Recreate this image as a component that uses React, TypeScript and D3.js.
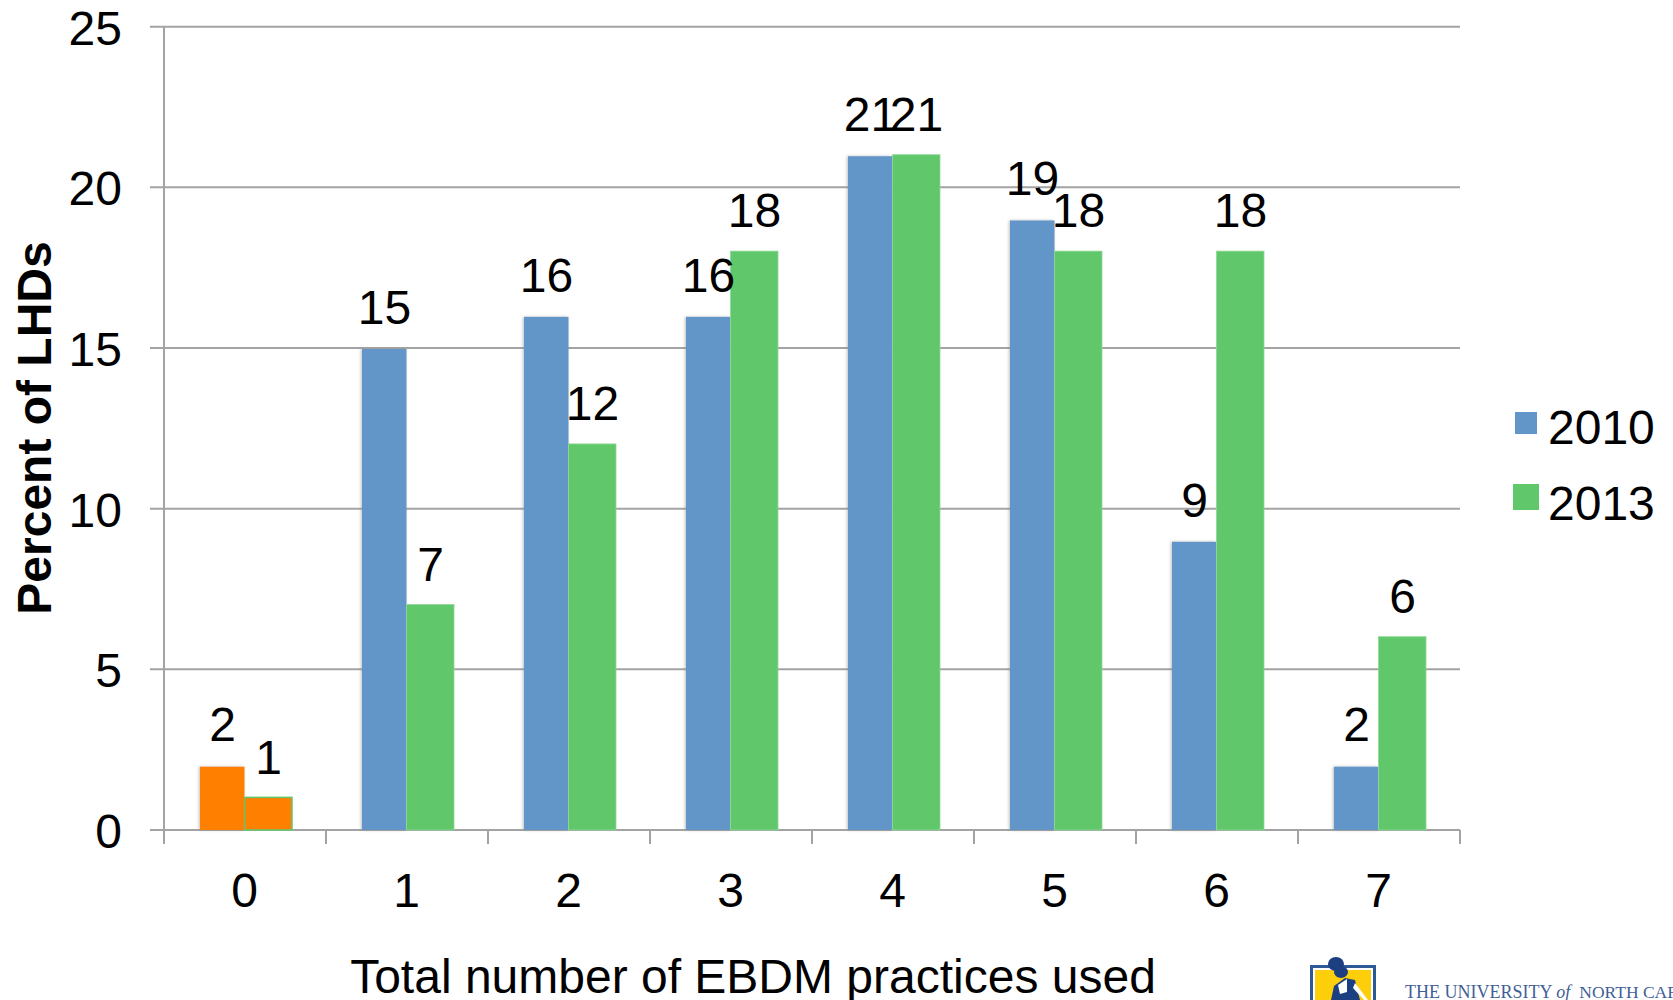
import React from "react";
import * as d3 from "d3";

const categories = ["0", "1", "2", "3", "4", "5", "6", "7"];
const values2010 = [2, 15, 16, 16, 21, 19, 9, 2];
const values2013 = [1, 7, 12, 18, 21, 18, 18, 6];
const yTicks = [0, 5, 10, 15, 20, 25];
const legendItems = ["2010", "2013"];
const xTitle = "Total number of EBDM practices used";
const yTitle = "Percent of LHDs";

const BLUE = "#6296c9";
const GREEN = "#60c86b";
const ORANGE = "#ff7f00";
const AXIS = "#a3a3a3";
const FONT = "'Liberation Sans', Arial, sans-serif";
const SIZE = 48;

const x = d3.scaleBand<string>().domain(categories).range([164, 1460]);
const y = d3.scaleLinear().domain([0, 25]).range([830, 26.7]);

export default function App() {
  const step = x.step();
  const ticksX = d3.range(0, categories.length + 1).map((i) => 164 + i * step);
  return (
    <svg
      width={1673}
      height={1000}
      viewBox="0 0 1673 1000"
      style={{ position: "absolute", left: 0, top: 0, background: "#fff" }}
      fontFamily={FONT}
    >
      <defs>
        <filter id="sh" x="-15%" y="-5%" width="130%" height="110%">
          <feDropShadow dx="-1" dy="0" stdDeviation="1.6" floodColor="#888" floodOpacity="0.55" />
        </filter>
        <clipPath id="logoClip">
          <rect x={1300} y={950} width={373} height={50} />
        </clipPath>
      </defs>

      {yTicks.map((t) => (
        <line key={t} x1={150} x2={1460} y1={y(t)} y2={y(t)} stroke={AXIS} strokeWidth={2} />
      ))}
      <line x1={164} x2={164} y1={y(25)} y2={844} stroke={AXIS} strokeWidth={2} />
      {ticksX.map((tx) => (
        <line key={tx} x1={tx} x2={tx} y1={830} y2={844} stroke={AXIS} strokeWidth={2} />
      ))}

      {categories.map((c, i) => {
        const cx = (x(c) as number) + step / 2;
        const isOrange = c === "0";
        const v0 = values2010[i];
        const v1 = values2013[i];
        return (
          <g key={c}>
            <rect
              x={cx - 45}
              y={y(v0) + 1}
              width={44.5}
              height={y(0) - y(v0) - 1}
              fill={isOrange ? ORANGE : BLUE}
              filter="url(#sh)"
            />
            <rect
              x={cx - 0.5}
              y={y(v1) - 0.5}
              width={47.5}
              height={y(0) - y(v1) + 0.5}
              fill={isOrange ? ORANGE : GREEN}
              stroke={isOrange ? GREEN : "#8fd898"}
              strokeWidth={isOrange ? 1.5 : 0.8}
            />
            <text x={cx - 22.5} y={y(v0) - 24.3} textAnchor="middle" fontSize={SIZE} fill="#000">
              {v0}
            </text>
            <text x={cx + 23.5} y={y(v1) - 24.3} textAnchor="middle" fontSize={SIZE} fill="#000">
              {v1}
            </text>
          </g>
        );
      })}

      {yTicks.map((t) => (
        <text key={t} x={122} y={y(t) + 18} textAnchor="end" fontSize={SIZE} fill="#000">
          {t}
        </text>
      ))}
      {categories.map((c) => (
        <text
          key={c}
          x={(x(c) as number) + step / 2 - 0.5}
          y={907}
          textAnchor="middle"
          fontSize={SIZE}
          fill="#000"
        >
          {c}
        </text>
      ))}

      <text x={753} y={993} textAnchor="middle" fontSize={SIZE} fill="#000">
        {xTitle}
      </text>
      <text
        transform="translate(51,428) rotate(-90)"
        textAnchor="middle"
        fontSize={SIZE}
        fontWeight="bold"
        fill="#000"
      >
        {yTitle}
      </text>

      {legendItems.map((l, i) => (
        <g key={l}>
          <rect
            x={i === 0 ? 1515 : 1513}
            y={i === 0 ? 412 : 484}
            width={i === 0 ? 22 : 26}
            height={i === 0 ? 22 : 26}
            fill={i === 0 ? BLUE : GREEN}
          />
          <text x={1548} y={i === 0 ? 444 : 520} fontSize={SIZE} fill="#000">
            {l}
          </text>
        </g>
      ))}

      <g clipPath="url(#logoClip)">
        <rect x={1310} y={965} width={66} height={60} fill="#2d5a94" />
        <rect x={1313} y={968} width={60} height={50} fill="#fff" />
        <rect x={1315} y={970} width={56} height={50} fill="#fdcf0b" />
        <ellipse cx={1336} cy={964} rx={8} ry={7} fill="#1b3f80" />
        <ellipse cx={1341} cy={972} rx={7} ry={6} fill="#1b3f80" />
        <path d="M1331 1000 L1334 986 L1345 978 L1355 980 L1360 1000 Z" fill="#1b3f80" />
        <path d="M1338 985 L1347 979 L1347 992 L1340 994 Z" fill="#fff" />
        <path d="M1355 983 L1368 1000 L1364 1000 L1353 988 Z" fill="#fff" />
        <text x={1405} y={998} fontFamily="'Liberation Serif', serif" fontSize={18} fill="#3f6096">
          THE UNIVERSITY <tspan fontStyle="italic">of</tspan>
          <tspan dx={9} fontSize={17.5}>NORTH CAROLINA</tspan>
        </text>
      </g>
    </svg>
  );
}
